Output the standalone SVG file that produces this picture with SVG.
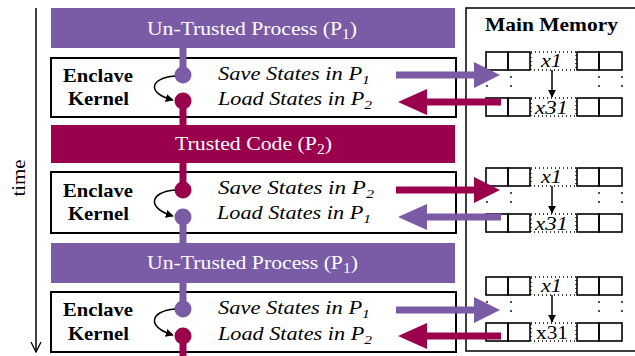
<svg xmlns="http://www.w3.org/2000/svg" width="635" height="356" viewBox="0 0 635 356">
<style>
.bar-p{fill:#7A5BA6}
.bar-c{fill:#9A004C}
.bartxt{font-family:"Liberation Serif",serif;font-size:19.5px;fill:#ffffff}
.kbox{fill:#ffffff;stroke:#000;stroke-width:2}
.ktxt{font-family:"Liberation Serif",serif;font-size:19.5px;font-weight:bold;fill:#000}
.itxt{font-family:"Liberation Serif",serif;font-size:18.5px;font-style:italic;fill:#000}
.cell{fill:none;stroke:#000;stroke-width:1.6}
.dot{fill:none;stroke:#000;stroke-width:1.3;stroke-dasharray:1 3}
.mtxt{font-family:"Liberation Serif",serif;font-size:18px;fill:#000}
.lp{stroke:#7A5BA6;stroke-width:7;fill:none}
.lc{stroke:#9A004C;stroke-width:7;fill:none}
.fp{fill:#7A5BA6}
.fc{fill:#9A004C}
.curve{fill:none;stroke:#000;stroke-width:1.5}
</style>
<defs>
<marker id="ah" viewBox="0 0 10 10" refX="9" refY="5" markerWidth="8" markerHeight="8" markerUnits="userSpaceOnUse" orient="auto">
<path d="M0,0 L10,5 L0,10 z" fill="#000"/>
</marker>
<marker id="tah" viewBox="0 0 12 12" refX="6" refY="11" markerWidth="12" markerHeight="12" markerUnits="userSpaceOnUse" orient="0">
<path d="M1,1 L6,11 L11,1" fill="none" stroke="#000" stroke-width="1.3"/>
</marker>
<g id="mem">
<rect class="cell" x="486" y="0" width="22" height="18"/>
<rect class="cell" x="508" y="0" width="22" height="18"/>
<rect class="dot" x="531" y="0" width="45" height="18"/>
<rect class="cell" x="577" y="0" width="22" height="18"/>
<rect class="cell" x="599" y="0" width="23" height="18"/>
<rect class="cell" x="486" y="46" width="22" height="18"/>
<rect class="cell" x="508" y="46" width="22" height="18"/>
<rect class="dot" x="531" y="46" width="45" height="18"/>
<rect class="cell" x="577" y="46" width="22" height="18"/>
<rect class="cell" x="599" y="46" width="23" height="18"/>
<g fill="#000">
<circle cx="487" cy="25" r="0.9"/><circle cx="487" cy="34" r="0.9"/>
<circle cx="511" cy="25" r="0.9"/><circle cx="511" cy="34" r="0.9"/>
<circle cx="599" cy="25" r="0.9"/><circle cx="599" cy="34" r="0.9"/>
<circle cx="622" cy="25" r="0.9"/><circle cx="622" cy="34" r="0.9"/>
</g>
<line x1="552" y1="18" x2="552" y2="45" stroke="#000" stroke-width="1.5" marker-end="url(#ah)"/>
</g>
</defs>
<rect x="0" y="0" width="635" height="356" fill="#ffffff"/>

<g id="time-axis">
<line x1="36" y1="8" x2="36" y2="352" stroke="#000" stroke-width="1.5" marker-end="url(#tah)"/>
<text x="25" y="178" transform="rotate(-90 25 178)" font-family="Liberation Serif, serif" font-size="18" text-anchor="middle" textLength="37" lengthAdjust="spacingAndGlyphs">time</text>
</g>

<g id="main-memory">
<rect x="466" y="8" width="175" height="343" fill="#ffffff" stroke="#000" stroke-width="1.5"/>
<text x="485" y="31" font-family="Liberation Serif, serif" font-size="19" font-weight="bold" textLength="133" lengthAdjust="spacingAndGlyphs">Main Memory</text>
</g>
<g id="mem1" transform="translate(0,52)">
<use href="#mem"/>
<text class="mtxt" x="541" y="15" font-style="italic" textLength="21" lengthAdjust="spacingAndGlyphs">x1</text>
<text class="mtxt" x="535" y="62" font-style="italic" textLength="33" lengthAdjust="spacingAndGlyphs">x31</text>
</g>
<g id="mem2" transform="translate(0,168)">
<use href="#mem"/>
<text class="mtxt" x="541" y="15" font-style="italic" textLength="21" lengthAdjust="spacingAndGlyphs">x1</text>
<text class="mtxt" x="535" y="62" font-style="italic" textLength="33" lengthAdjust="spacingAndGlyphs">x31</text>
</g>
<g id="mem3" transform="translate(0,277)">
<use href="#mem"/>
<text class="mtxt" x="541" y="15" font-style="italic" textLength="21" lengthAdjust="spacingAndGlyphs">x1</text>
<text class="mtxt" x="536" y="62" textLength="32" lengthAdjust="spacingAndGlyphs">x31</text>
</g>

<g id="bar1">
<rect class="bar-p" x="51" y="8" width="404" height="40"/>
<text class="bartxt" x="147" y="35" textLength="210" lengthAdjust="spacingAndGlyphs">Un-Trusted Process (P<tspan font-size="14" dy="4">1</tspan><tspan dy="-4">)</tspan></text>
</g>
<g id="kernel1">
<rect class="kbox" x="51" y="58" width="405" height="59"/>
<text class="ktxt" x="63" y="82" textLength="70" lengthAdjust="spacingAndGlyphs">Enclave</text>
<text class="ktxt" x="68" y="105" textLength="61" lengthAdjust="spacingAndGlyphs">Kernel</text>
<text class="itxt" x="218" y="80" textLength="152" lengthAdjust="spacingAndGlyphs">Save States in P<tspan font-size="13" dy="4">1</tspan></text>
<text class="itxt" x="218" y="105" textLength="154" lengthAdjust="spacingAndGlyphs">Load States in P<tspan font-size="13" dy="4">2</tspan></text>
</g>
<g id="bar2">
<rect class="bar-c" x="51" y="125" width="404" height="38"/>
<text class="bartxt" x="175" y="150" textLength="157" lengthAdjust="spacingAndGlyphs">Trusted Code (P<tspan font-size="14" dy="4">2</tspan><tspan dy="-4">)</tspan></text>
</g>
<g id="kernel2">
<rect class="kbox" x="51" y="172" width="405" height="61"/>
<text class="ktxt" x="63" y="197" textLength="70" lengthAdjust="spacingAndGlyphs">Enclave</text>
<text class="ktxt" x="68" y="220" textLength="61" lengthAdjust="spacingAndGlyphs">Kernel</text>
<text class="itxt" x="218" y="194" textLength="156" lengthAdjust="spacingAndGlyphs">Save States in P<tspan font-size="13" dy="4">2</tspan></text>
<text class="itxt" x="217" y="219" textLength="154" lengthAdjust="spacingAndGlyphs">Load States in P<tspan font-size="13" dy="4">1</tspan></text>
</g>
<g id="bar3">
<rect class="bar-p" x="51" y="243" width="404" height="40"/>
<text class="bartxt" x="147" y="269" textLength="211" lengthAdjust="spacingAndGlyphs">Un-Trusted Process (P<tspan font-size="14" dy="4">1</tspan><tspan dy="-4">)</tspan></text>
</g>
<g id="kernel3">
<rect class="kbox" x="51" y="292" width="405" height="60"/>
<text class="ktxt" x="63" y="316" textLength="70" lengthAdjust="spacingAndGlyphs">Enclave</text>
<text class="ktxt" x="68" y="340" textLength="61" lengthAdjust="spacingAndGlyphs">Kernel</text>
<text class="itxt" x="218" y="314" textLength="152" lengthAdjust="spacingAndGlyphs">Save States in P<tspan font-size="13" dy="4">1</tspan></text>
<text class="itxt" x="218" y="340" textLength="154" lengthAdjust="spacingAndGlyphs">Load States in P<tspan font-size="13" dy="4">2</tspan></text>
</g>

<g id="connectors">
<line class="lp" x1="183" y1="48" x2="183" y2="75"/>
<line class="lc" x1="183" y1="101" x2="183" y2="125"/>
<line class="lc" x1="183" y1="163" x2="183" y2="190"/>
<line class="lp" x1="183" y1="217" x2="183" y2="243"/>
<line class="lp" x1="183" y1="283" x2="183" y2="309"/>
<line class="lc" x1="183" y1="336" x2="183" y2="356"/>
<circle class="fp" cx="183" cy="75" r="8.5"/>
<circle class="fc" cx="183" cy="101" r="8.5"/>
<circle class="fc" cx="183" cy="190" r="8.5"/>
<circle class="fp" cx="183" cy="217" r="8.5"/>
<circle class="fp" cx="183" cy="309" r="8.5"/>
<circle class="fc" cx="183" cy="336" r="8.5"/>
<path class="curve" d="M175,76 C150,78 146,93 173,100" marker-end="url(#ah)"/>
<path class="curve" d="M175,190 C150,192 146,208 173,216" marker-end="url(#ah)"/>
<path class="curve" d="M175,309 C150,311 146,327 173,335" marker-end="url(#ah)"/>
<path class="fp" d="M396,71.5 H474 V62 L500,75 L474,88 V78.5 H396 Z"/>
<path class="fc" d="M501,98.5 H427 V89 L398,102 L427,115 V105.5 H501 Z"/>
<path class="fc" d="M396,186.5 H474 V177 L500,190 L474,203 V193.5 H396 Z"/>
<path class="fp" d="M501,213.5 H427 V204 L398,217 L427,230 V220.5 H501 Z"/>
<path class="fp" d="M396,306.5 H474 V297 L500,310 L474,323 V313.5 H396 Z"/>
<path class="fc" d="M501,332.5 H427 V323 L398,336 L427,349 V339.5 H501 Z"/>
</g>
</svg>
